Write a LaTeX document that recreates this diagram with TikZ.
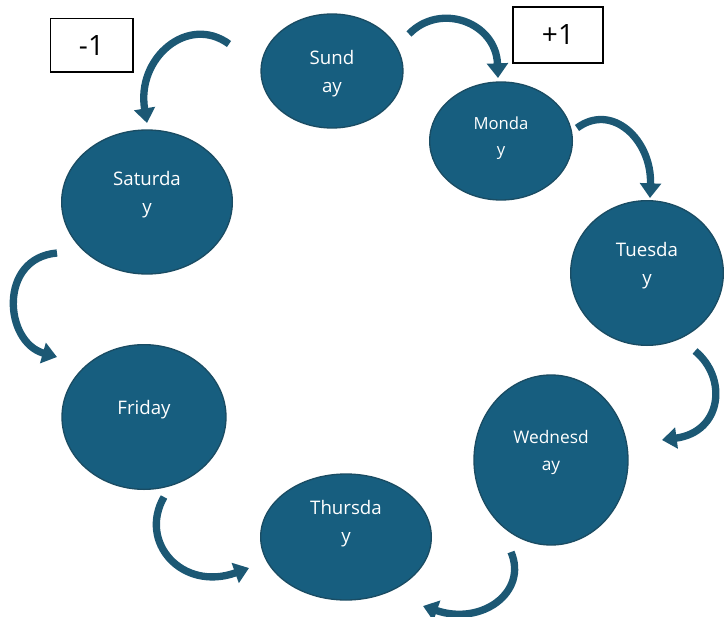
\documentclass[tikz,border=0pt]{standalone}
\usepackage{fontspec}
\setmainfont{Open Sans}
\usetikzlibrary{arrows.meta,shapes.geometric}
\definecolor{cDay}{HTML}{175E7F}
\definecolor{cDayLine}{HTML}{1A4C63}
\definecolor{cArrow}{HTML}{1C5874}
\definecolor{cInk}{HTML}{000000}
\tikzset{
  day/.style={ellipse, draw=cDayLine, fill=cDay, line width=1pt, inner sep=0pt,
              align=center, text=white, text depth=14pt,
              font=\fontsize{14}{21}\selectfont},
  smallday/.style={day, font=\fontsize{12.5}{19.5}\selectfont},
  stepbox/.style={draw=cInk, line width=1pt, fill=white, inner sep=0pt,
                  font=\fontsize{21}{24}\selectfont, text=cInk},
  curl/.style={draw=cArrow, line width=5.5pt, line cap=butt,
               -{Triangle[length=11pt,width=15.5pt]}},
}

\begin{document}
\begin{tikzpicture}[x=0.75pt,y=-0.75pt]
\useasboundingbox (0,0) rectangle (724,617);

% ---------------------------------------------------------------- the seven days
\node[day, text depth=0pt, minimum width=106.5pt, minimum height=85.5pt] (sun) at (332,71) {Sund\\ay};
\node[smallday, text depth=6.5pt, minimum width=107pt, minimum height=88.5pt] (mon) at (501,141) {Monda\\y};
\node[day, minimum width=114.5pt, minimum height=108.5pt] (tue) at (647,273) {Tuesda\\y};
\node[smallday, font=\fontsize{13}{20}\selectfont, minimum width=115.5pt, minimum height=127.5pt]
     (wed) at (551,460) {Wednesd\\ay};
\node[day, text depth=24pt, minimum width=128pt, minimum height=94.5pt] (thu) at (346,537) {Thursda\\y};
\node[day, minimum width=123pt, minimum height=108.5pt] (fri) at (144,417) {Friday};
\node[day, minimum width=128pt, minimum height=108pt] (sat) at (147,202) {Saturda\\y};

% ---------------------------------------------------------------- the two steps
\node[stepbox, minimum width=62pt, minimum height=40pt] (minus) at (91.5,45.5) {-1};
\node[stepbox, minimum width=67.5pt, minimum height=42pt] (plus) at (558,35) {+1};

% ---------------------------------------------------------------- arrow ends
\coordinate (a1) at (229,44);  \coordinate (b1) at (147,123);
\coordinate (a2) at (409,34);  \coordinate (b2) at (498,78);
\coordinate (a3) at (577,128); \coordinate (b3) at (650,198);
\coordinate (a4) at (695,351); \coordinate (b4) at (662,440);
\coordinate (a5) at (511,552); \coordinate (b5) at (423,606);
\coordinate (a6) at (164,497); \coordinate (b6) at (249,568);
\coordinate (a7) at (57,253);  \coordinate (b7) at (57,357);

% ---------------------------------------------------------------- the curved arrows
\draw[curl] (a1) .. controls (188,14) and (136,58) .. (b1);
\draw[curl] (a2) .. controls (440,2) and (496,22) .. (b2);
\draw[curl] (a3) .. controls (612,102) and (652,140) .. (b3);
\draw[curl] (a4) .. controls (728,378) and (722,432) .. (b4);
\draw[curl] (a5) .. controls (528,592) and (482,626) .. (b5);
\draw[curl] (a6) .. controls (138,542) and (182,592) .. (b6);
\draw[curl] (a7) .. controls (-2,258) and (4,342) .. (b7);

\end{tikzpicture}
\end{document}
